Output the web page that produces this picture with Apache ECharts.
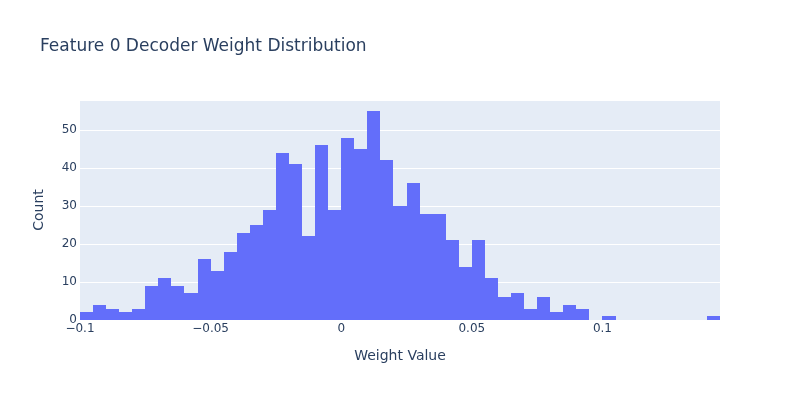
<!DOCTYPE html>
<html>
<head>
<meta charset="utf-8">
<script src="https://cdn.jsdelivr.net/npm/echarts@6/dist/echarts.min.js"></script>
<style>html,body{margin:0;padding:0;background:#fff}#c{width:800px;height:400px}</style>
</head>
<body>
<div id="c"></div>
<script>
const binStart = -0.1;
const binSize = 0.005;
const counts = [2,4,3,2,3,9,11,9,7,16,13,18,23,25,29,44,41,22,46,29,48,45,55,42,30,36,28,28,21,14,21,11,6,7,3,6,2,4,3,0,1,0,0,0,0,0,0,0,1];
const xTicks = [-0.1, -0.05, 0, 0.05, 0.1];
const yTicks = [0,10,20,30,40,50];

const data = counts.map((c, i) => {
  const s = +(binStart + i * binSize).toFixed(4);
  return [s, +(s + binSize).toFixed(4), c];
}).filter(d => d[2] > 0);

const chart = echarts.init(document.getElementById('c'), null, {renderer: 'canvas'});
const font = '"DejaVu Sans", Verdana, sans-serif';
const txt = '#2a3f5f';
chart.setOption({
  animation: false,
  backgroundColor: '#fff',
  title: {
    text: 'Feature 0 Decoder Weight Distribution',
    left: 35, top: 33,
    textStyle: {fontFamily: font, fontSize: 17, fontWeight: 'normal', color: txt}
  },
  grid: {left: 80, right: 80, top: 100, bottom: 80, show: true, backgroundColor: '#E5ECF6', borderWidth: 0},
  xAxis: {
    type: 'value', min: -0.1, max: 0.145, interval: 0.05,
    name: 'Weight Value', nameLocation: 'middle', nameGap: 29,
    nameTextStyle: {fontFamily: font, fontSize: 14, color: txt},
    axisLine: {show: false}, axisTick: {show: false},
    splitLine: {show: false},
    axisLabel: {
      fontFamily: font, fontSize: 12, color: txt, margin: 3, showMaxLabel: false,
      formatter: v => {
        const r = Math.round(v * 1000) / 1000;
        if (xTicks.indexOf(r) < 0) return '';
        return (r < 0 ? '\u2212' : '') + String(Math.abs(r));
      }
    }
  },
  yAxis: {
    type: 'value', min: 0, max: 57.9, interval: 10,
    name: 'Count', nameLocation: 'middle', nameGap: 34, nameRotate: 90,
    nameTextStyle: {fontFamily: font, fontSize: 14, color: txt},
    axisLine: {show: false}, axisTick: {show: false},
    splitLine: {show: true, lineStyle: {color: '#fff', width: 1}},
    axisLabel: {fontFamily: font, fontSize: 12, color: txt, margin: 3, showMaxLabel: false,
      formatter: v => yTicks.indexOf(v) >= 0 ? String(v) : ''}
  },
  series: [{
    type: 'custom',
    data: data,
    encode: {x: [0, 1], y: 2},
    renderItem: (params, api) => {
      const p0 = api.coord([api.value(0), api.value(2)]);
      const p1 = api.coord([api.value(1), 0]);
      const x0 = Math.round(p0[0]), x1 = Math.round(p1[0]);
      const y0 = Math.round(p0[1]), y1 = Math.round(p1[1]);
      return {
        type: 'rect',
        shape: {x: x0, y: y0, width: x1 - x0, height: y1 - y0},
        style: {fill: '#636efa'}
      };
    }
  }]
});
</script>
</body>
</html>
